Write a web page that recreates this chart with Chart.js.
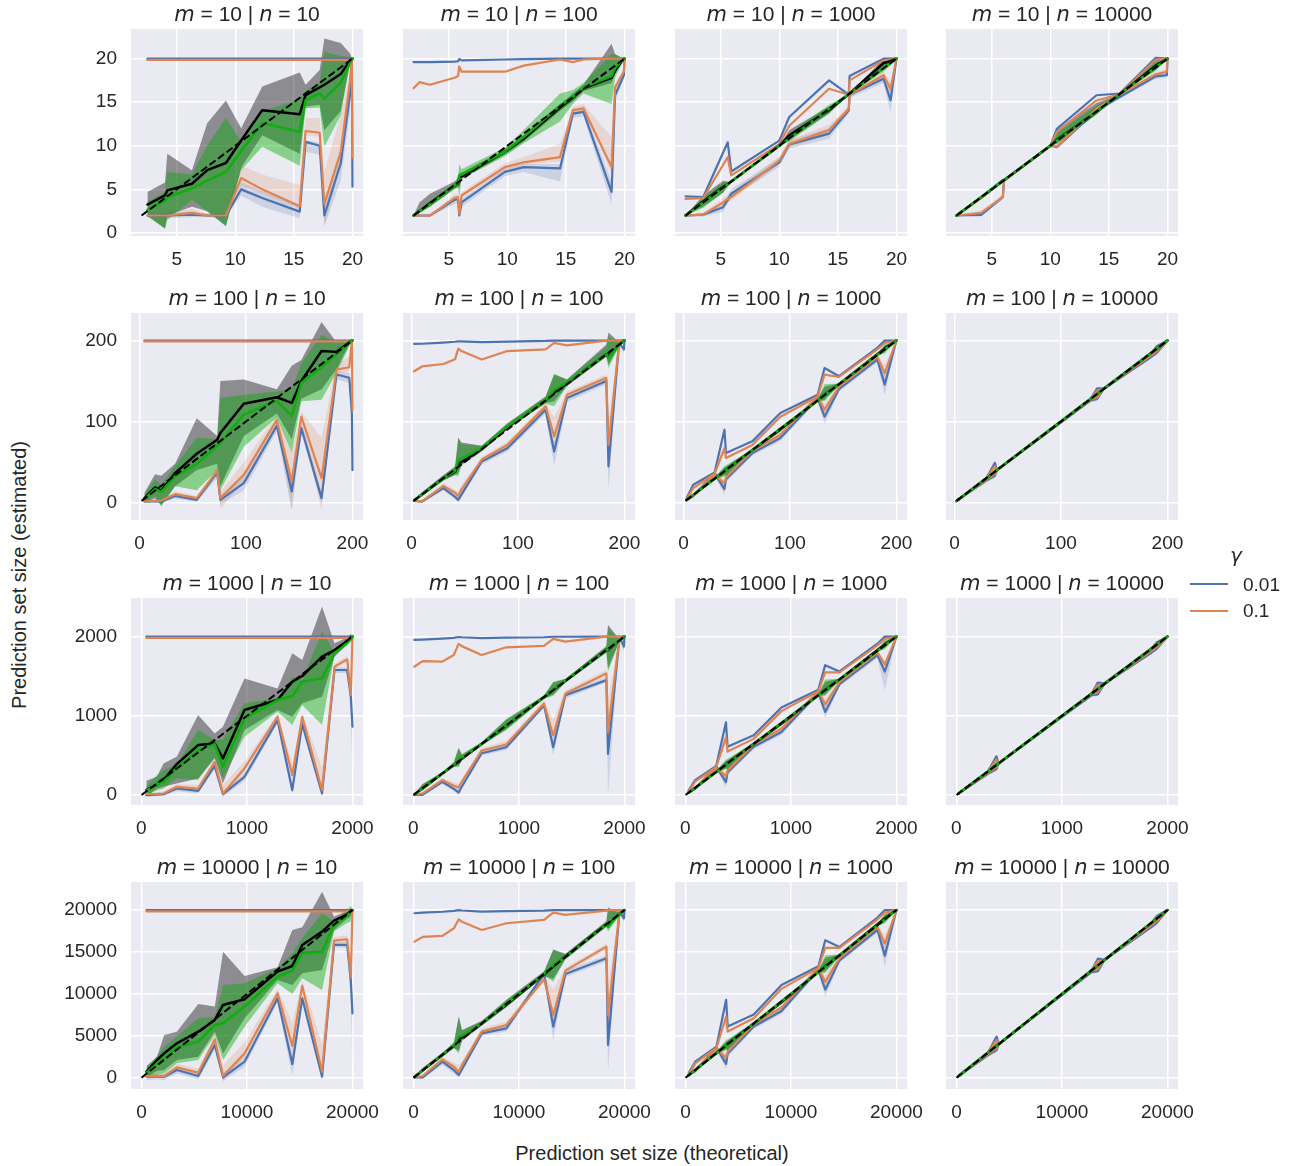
<!DOCTYPE html>
<html><head><meta charset="utf-8">
<script src="https://cdn.jsdelivr.net/npm/chart.js@4.4.1/dist/chart.umd.min.js"></script>
<style>
body{margin:0;width:1291px;height:1166px;background:#fff;position:relative;overflow:hidden;font-family:"Liberation Sans",Arial,sans-serif;color:#262626}
canvas{position:absolute}
.ttl{position:absolute;width:232px;text-align:center;font-size:21px;line-height:22px;white-space:nowrap}
.ttl i,.gm{font-family:"DejaVu Sans",sans-serif;font-style:oblique}
.lab{position:absolute;font-size:20px;white-space:nowrap;line-height:24px}
.leg{position:absolute;font-size:19px;line-height:22px}
.lline{position:absolute;height:2px;width:38px}
</style></head><body>
<script>
// ---- axis setup per row (m) and column (n) ----
var rowsM = [10, 100, 1000, 10000];
var colsN = [10, 100, 1000, 10000];
var xMin = [1.1, -7.9, -97.9, -997.9];
var xMax = [20.9, 209.9, 2099.9, 20999.9];
var yMin = [-0.35, -21.6, -124, -1350];
var yMax = [23.4, 234, 2487, 23350];
var xTicks1 = [5, 10, 15, 20], xTicks2 = [0, 100, 200], xTicks3 = [0, 1000, 2000], xTicks4 = [0, 10000, 20000];
var yTicks1 = [0, 5, 10, 15, 20], yTicks2 = [0, 100, 200], yTicks3 = [0, 1000, 2000], yTicks4 = [0, 5000, 10000, 15000, 20000];
var diag1 = [2, 20], diag2 = [2, 200], diag3 = [2, 2000], diag4 = [2, 20000];

// ---- row 1 (m = 10) ----
var r1c1_x   = [2.5, 4.0, 4.2, 6.3, 7.6, 9.2, 10.5, 12.3, 15.5, 16.0, 17.2, 17.6, 19.0, 19.8, 19.95, 20.0];
var r1c1_bU  = [20, 20, 20, 20, 20, 20, 20, 20, 20, 20, 20, 20, 20, 20, 20, 20];
var r1c1_oU  = [19.85, 19.85, 19.85, 19.85, 19.85, 19.85, 19.85, 19.85, 19.85, 19.85, 19.85, 19.85, 19.85, 19.85, 19.9, 19.9];
var r1c1_bL  = [2.0, 2.0, 2.0, 2.1, 2.0, 2.0, 5.0, 4.0, 2.45, 10.45, 10.0, 2.0, 8.0, 16.0, 20.0, 5.3];
var r1c1_bLlo= [1.8, 1.8, 1.7, 1.8, 1.8, 1.8, 4.3, 3.0, 1.7, 9.3, 9.0, 0.8, 6.0, 14.0, 20, 1.0];
var r1c1_bLhi= [2.2, 2.2, 2.3, 2.5, 2.2, 2.2, 5.8, 4.8, 3.2, 10.6, 10.4, 3.0, 9.5, 17.0, 20, 12.0];
var r1c1_oL  = [2.0, 2.0, 2.0, 2.3, 2.0, 2.0, 6.3, 5.0, 3.07, 11.7, 11.5, 3.34, 9.3, 17.5, 20.0, 8.6];
var r1c1_oLlo= [1.8, 1.8, 1.8, 2.0, 1.8, 1.8, 5.5, 4.5, 2.8, 11.2, 11.0, 0.7, 8.0, 16.5, 20, 5.0];
var r1c1_oLhi= [2.2, 2.2, 2.3, 2.8, 2.2, 2.2, 7.7, 6.7, 5.5, 13.2, 13.2, 7.0, 13.6, 18.5, 20, 21.0];
var r1c1_g   = [2.65, 3.7, 4.1, 5.1, 6.0, 7.0, 9.4, 12.6, 11.6, 15.25, 16.0, 15.4, 17.24, 19.5, 20, 20];
var r1c1_glo = [1.9, 0.5, 1.5, 3.8, 2.5, 0.8, 7.2, 9.9, 7.7, 14.3, 14.4, 9.9, 13.5, 19.5, 20, 20];
var r1c1_ghi = [3.6, 4.7, 7.0, 6.7, 10.0, 13.2, 10.5, 14.0, 15.3, 16.3, 17.3, 20.8, 20.3, 20.2, 20, 20];
var r1c1_k   = [3.26, 4.3, 4.88, 5.65, 7.2, 8.03, 10.6, 14.09, 13.63, 15.82, 16.7, 17.0, 18.24, 19.8, 20, 20];
var r1c1_klo = [2.0, 0.5, 2.0, 3.0, 2.5, 0.8, 7.5, 11.2, 9.1, 14.5, 14.7, 11.8, 14.0, 19.5, 20, 20];
var r1c1_khi = [4.7, 5.8, 9.1, 7.2, 12.6, 15.2, 12.0, 16.8, 18.4, 17.0, 18.7, 22.3, 21.8, 20.6, 20, 20];

var r1c2_x   = [2.0, 2.5, 3.4, 5.5, 5.8, 5.9, 6.1, 9.8, 11.4, 14.5, 15.6, 16.5, 18.9, 19.2, 19.95, 20.0];
var r1c2_bU  = [19.6, 19.6, 19.6, 19.65, 19.7, 19.95, 19.8, 19.9, 19.95, 20.0, 20.0, 20.0, 20.0, 20.0, 20.0, 20.0];
var r1c2_oU  = [16.6, 17.3, 17.0, 17.8, 18.0, 19.1, 18.5, 18.5, 19.2, 19.9, 19.6, 19.9, 20.0, 20.0, 20.0, 20.0];
var r1c2_bL  = [2.0, 2.0, 2.0, 3.8, 3.9, 2.0, 3.5, 7.0, 7.55, 7.4, 13.7, 13.9, 4.7, 15.8, 18.1, 20.0];
var r1c2_bLlo= [1.9, 1.9, 1.9, 3.3, 3.4, 1.8, 3.0, 6.5, 7.0, 5.9, 13.2, 13.4, 3.3, 15.2, 17.8, 20];
var r1c2_bLhi= [2.1, 2.1, 2.1, 4.2, 4.3, 2.3, 3.9, 7.4, 7.9, 7.9, 14.1, 14.3, 6.0, 16.3, 18.4, 20];
var r1c2_oL  = [2.0, 2.0, 2.0, 4.0, 4.1, 2.2, 4.3, 7.55, 8.1, 8.7, 14.1, 14.3, 7.55, 16.7, 18.5, 20.0];
var r1c2_oLlo= [1.9, 1.9, 1.9, 3.7, 3.8, 2.0, 4.0, 7.2, 7.8, 8.2, 13.8, 14.0, 6.8, 16.3, 18.3, 20];
var r1c2_oLhi= [2.1, 2.1, 2.1, 4.4, 4.5, 2.5, 4.7, 8.0, 8.7, 10.2, 14.5, 14.8, 11.0, 17.1, 18.8, 20];
var r1c2_g   = [2.0, 2.5, 3.3, 5.4, 5.8, 6.6, 6.7, 9.3, 11.0, 14.6, 15.6, 16.7, 18.0, 18.9, 20.0, 20.0];
var r1c2_glo = [2.0, 2.3, 3.0, 5.0, 5.2, 4.1, 6.2, 8.8, 10.3, 12.8, 14.8, 16.0, 14.8, 17.8, 20, 20];
var r1c2_ghi = [2.1, 2.8, 3.7, 5.8, 6.5, 7.9, 7.3, 9.8, 11.8, 16.0, 16.4, 17.2, 20.5, 20.5, 20, 20];
var r1c2_k   = [2.0, 2.5, 3.4, 5.4, 5.7, 6.4, 6.5, 9.3, 10.8, 14.4, 15.5, 16.6, 17.8, 18.6, 20, 20];
var r1c2_klo = [2.0, 2.3, 3.0, 5.1, 5.3, 5.2, 6.2, 9.0, 10.5, 14.0, 15.1, 16.3, 17.2, 18.2, 20, 20];
var r1c2_khi = [2.0, 3.5, 4.5, 5.9, 6.2, 6.9, 6.9, 9.6, 11.2, 14.8, 16.0, 17.0, 21.7, 20.5, 20, 20];

var r1c3_x   = [2.0, 3.5, 5.2, 5.6, 5.9, 10.0, 10.85, 14.25, 15.93, 16.0, 18.9, 19.5, 20.0];
var r1c3_bU  = [4.2, 4.1, 9.2, 10.4, 7.05, 10.6, 13.3, 17.5, 15.86, 18.0, 20.0, 20.0, 20.0];
var r1c3_oU  = [3.9, 4.0, 7.8, 8.7, 6.6, 10.2, 12.3, 16.55, 15.86, 17.5, 19.8, 19.9, 20.0];
var r1c3_bL  = [2.0, 2.1, 2.95, 3.8, 4.5, 8.1, 10.15, 11.4, 14.06, 15.86, 17.7, 15.2, 20.0];
var r1c3_bLlo= [1.9, 1.9, 2.4, 3.4, 4.0, 7.6, 9.7, 10.8, 13.7, 15.5, 17.2, 13.8, 20.0];
var r1c3_bLhi= [2.1, 2.3, 3.4, 4.4, 5.0, 8.6, 10.6, 12.0, 14.4, 16.1, 18.1, 16.5, 20.0];
var r1c3_oL  = [2.0, 2.1, 3.5, 3.9, 4.1, 8.3, 10.2, 11.8, 14.25, 15.86, 18.1, 16.55, 20.0];
var r1c3_oLlo= [1.9, 1.9, 3.1, 3.5, 3.7, 7.9, 9.8, 11.3, 13.9, 15.6, 17.7, 15.6, 20.0];
var r1c3_oLhi= [2.1, 2.3, 4.0, 4.3, 4.6, 8.8, 10.7, 12.4, 14.6, 16.2, 18.5, 17.4, 20.0];
var r1c3_g   = [2.0, 3.5, 5.2, 5.6, 5.9, 10.0, 10.85, 14.25, 15.93, 16.0, 18.9, 19.5, 20.0];
var r1c3_glo = [2.0, 2.9, 4.6, 5.4, 5.9, 10.0, 10.5, 13.7, 15.93, 16.0, 18.5, 19.2, 20.0];
var r1c3_ghi = [2.0, 4.1, 5.8, 5.8, 5.9, 10.0, 11.4, 14.7, 15.93, 16.0, 19.6, 19.9, 20.0];
var r1c3_k   = [2.0, 3.6, 5.3, 5.6, 5.9, 10.0, 11.2, 14.1, 15.9, 16.0, 19.5, 19.7, 20.0];
var r1c3_klo = [2.0, 3.0, 4.6, 5.3, 5.9, 10.0, 10.7, 13.7, 15.9, 16.0, 19.0, 19.3, 20.0];
var r1c3_khi = [2.0, 4.3, 6.0, 5.9, 5.9, 10.0, 11.8, 14.5, 15.9, 16.0, 20.0, 20.1, 20.0];

var r1c4_x   = [2.0, 4.1, 5.95, 6.05, 10.0, 10.56, 13.94, 15.93, 19.0, 19.95, 20.0];
var r1c4_bU  = [2.0, 4.1, 6.1, 6.1, 10.0, 11.95, 15.8, 16.0, 20.1, 20.0, 20.0];
var r1c4_oU  = [2.0, 4.0, 6.0, 6.0, 10.0, 11.6, 15.2, 15.9, 19.9, 20.0, 20.0];
var r1c4_bL  = [2.0, 2.07, 4.1, 6.0, 10.0, 9.85, 14.06, 15.6, 17.97, 18.1, 20.0];
var r1c4_bLlo= [2.0, 1.9, 3.9, 5.9, 10.0, 9.7, 13.8, 15.4, 17.7, 17.9, 20];
var r1c4_bLhi= [2.0, 2.3, 4.4, 6.1, 10.0, 10.0, 14.4, 15.8, 18.2, 18.3, 20];
var r1c4_oL  = [2.0, 2.3, 4.1, 6.0, 10.0, 9.9, 14.25, 15.9, 18.2, 18.5, 20.0];
var r1c4_oLlo= [2.0, 2.2, 4.0, 5.9, 10.0, 9.8, 14.0, 15.8, 18.0, 18.3, 20];
var r1c4_oLhi= [2.0, 2.6, 4.4, 6.1, 10.0, 10.1, 14.6, 16.0, 18.5, 18.8, 20];
var r1c4_g   = [2.0, 4.1, 5.95, 6.05, 10.0, 10.6, 13.94, 15.93, 19.0, 19.95, 20.0];
var r1c4_glo = [2.0, 4.1, 5.95, 6.05, 10.0, 10.3, 13.6, 15.93, 18.6, 19.9, 20.0];
var r1c4_ghi = [2.0, 4.1, 5.95, 6.05, 10.0, 11.5, 14.6, 15.93, 19.6, 20.0, 20.0];
var r1c4_k   = [2.0, 4.1, 5.95, 6.05, 10.0, 10.7, 13.9, 15.93, 19.2, 19.95, 20.0];
var r1c4_klo = [2.0, 4.1, 5.95, 6.05, 10.0, 10.2, 13.6, 15.93, 18.7, 19.9, 20.0];
var r1c4_khi = [2.0, 4.1, 5.95, 6.05, 10.0, 11.8, 14.9, 15.93, 20.1, 20.0, 20.0];

// ---- row 2 (m = 100) ----
var r2c1_x   = [4.7, 14.7, 20.5, 33.5, 53.8, 73, 76, 98, 129, 143, 152, 171, 185, 197, 199.5, 200];
var r2c1_bU  = [200, 200, 200, 200, 200, 200, 200, 200, 200, 200, 200, 200, 200, 200, 200, 200];
var r2c1_oU  = [199, 199, 199, 199, 199, 199, 199, 199, 199, 199, 199, 199, 199, 199, 199.5, 199.5];
var r2c1_bL  = [1.2, 1.6, 1.4, 8.2, 3.3, 37, 3.3, 23.9, 94.8, 13.6, 92, 5.4, 158, 154, 110, 40];
var r2c1_bLlo= [0, 0, -1, 5, 1, 30, -2, 15, 88, -10, 85, -2, 152, 148, 90, -5];
var r2c1_bLhi= [2.5, 3, 3, 11, 6, 42, 8, 32, 100, 25, 100, 12, 163, 160, 125, 60];
var r2c1_oL  = [1.2, 2.2, 2.4, 10.3, 5.4, 39, 5.4, 34.2, 102, 26, 106, 30, 164, 167, 200, 114];
var r2c1_oLlo= [0, 1, 1, 7, 3, 35, -8, 27, 97, -8, 100, -10, 159, 162, 200, 80];
var r2c1_oLhi= [3, 4, 4, 14, 8, 44, 13, 50, 108, 60, 112, 80, 172, 180, 200, 140];
var r2c1_g   = [4.1, 16.5, 13.2, 32.2, 47.4, 70, 73.4, 108.5, 125.8, 107, 147.6, 167, 183, 197, 200, 200];
var r2c1_glo = [0, 8, -5, 20, 15, 40, 15, 69, 105, 61, 125, 127, 160, 193, 200, 200];
var r2c1_ghi = [10, 28, 22, 45, 80, 78, 129, 133, 137, 140, 172, 207, 197, 201, 200, 200];
var r2c1_k   = [5.4, 18.6, 14.8, 36.3, 60.2, 77.5, 85.8, 122, 130, 123, 150, 187, 186, 198, 200, 200];
var r2c1_klo = [0, 5, -3, 20, 40, 48, 20, 82, 110, 78, 128, 140, 165, 195, 200, 200];
var r2c1_khi = [12, 35, 33, 48, 104, 82, 150, 152, 140, 169, 176, 223, 198, 201, 200, 200];

var r2c2_x   = [2.5, 10, 30, 41, 44, 47, 66, 90, 126, 134, 146, 183, 185, 195, 199.5, 200];
var r2c2_bU  = [195.9, 196, 197.5, 198.5, 199, 199, 198, 198.7, 199.5, 200, 200, 200, 200, 200, 200, 200];
var r2c2_oU  = [162, 168, 171, 177, 190, 187, 176.5, 187, 189, 197, 194, 200, 200, 200, 200, 200];
var r2c2_bL  = [2, 1.2, 17.7, 7, 3.3, 9.8, 50.7, 67, 114.6, 63, 129, 150, 44.5, 197, 189, 200];
var r2c2_bLlo= [1, 0, 15, 4, 0, 7, 47, 63, 110, 45, 124, 146, 15, 194, 185, 200];
var r2c2_bLhi= [3, 3, 21, 10, 8, 13, 55, 72, 119, 75, 133, 155, 70, 199, 193, 200];
var r2c2_oL  = [2, 1.5, 20.6, 12, 8.2, 16, 52.8, 71, 118.8, 81.6, 133, 154, 71, 197, 200, 200];
var r2c2_oLlo= [1, 0.5, 18, 9, 5, 13, 50, 68, 115, 70, 130, 150, 50, 194, 198, 200];
var r2c2_oLhi= [3, 3, 24, 15, 14, 22, 56, 75, 123, 105, 137, 158, 100, 199, 200, 200];
var r2c2_g   = [2.5, 10, 30, 39, 52, 54, 67, 94, 126, 139, 148, 182.7, 178.6, 195, 200, 200];
var r2c2_glo = [2, 8, 28, 34, 32, 48, 64, 91, 122, 119, 144, 180, 166, 193, 200, 200];
var r2c2_ghi = [3, 12, 33, 45, 80, 72, 70, 97, 131, 159, 152, 192, 205, 198, 200, 200];
var r2c2_k   = [2.5, 10, 30, 38, 48, 50, 66, 93, 126, 136, 147, 183, 180, 195, 200, 200];
var r2c2_klo = [2, 8, 27, 34, 36, 46, 63, 90, 123, 125, 144, 180, 170, 193, 200, 200];
var r2c2_khi = [3, 13, 34, 44, 80, 74, 70, 98, 131, 158, 152, 195, 210, 198, 200, 200];

var r2c3_x   = [3, 9.2, 29.3, 38.5, 40, 64.7, 91, 126, 132.5, 146, 182, 189, 200];
var r2c3_bU  = [5.4, 21.9, 37, 89.9, 61, 75.5, 110.5, 133, 166, 156, 191, 200, 200];
var r2c3_oU  = [4, 17.7, 35.5, 67, 55, 71, 106, 131, 158, 155, 189, 197, 200];
var r2c3_bL  = [3.3, 8, 36, 16.5, 28.9, 61, 79.6, 129, 106, 140, 176.5, 145.6, 200];
var r2c3_bLlo= [2, 6, 33, 10, 25, 58, 76, 126, 97, 137, 173, 132, 200];
var r2c3_bLhi= [5, 10, 39, 22, 33, 64, 83, 132, 114, 143, 180, 158, 200];
var r2c3_oL  = [3.3, 9, 34, 24, 31, 64, 83.7, 131, 114.6, 142.7, 179.8, 160, 200];
var r2c3_oLlo= [2, 7, 31, 19, 28, 61, 80, 128, 108, 140, 176, 150, 200];
var r2c3_oLhi= [5, 11, 37, 30, 35, 67, 87, 134, 122, 146, 183, 170, 200];
var r2c3_g   = [3, 9.2, 29.3, 38.5, 40, 64.7, 91, 126, 132.5, 146, 182, 189, 200];
var r2c3_glo = [3, 9, 28, 32, 30, 64, 89, 125, 125, 145, 181, 184, 200];
var r2c3_ghi = [3, 9.5, 31, 45, 46, 66, 93, 128, 146, 147, 184, 195, 200];
var r2c3_k   = [3, 9.2, 29.5, 38.5, 40.5, 64.7, 90, 126, 133, 146, 183, 190, 200];
var r2c3_klo = [3, 9, 28, 34, 33, 64, 89, 125, 127, 145, 181, 186, 200];
var r2c3_khi = [3, 9.5, 31, 43, 44, 66, 93, 128, 143, 147, 184, 194, 200];

var r2c4_x   = [2, 30, 38, 40, 128, 134, 140, 185, 190, 200];
var r2c4_bU  = [2, 30, 49, 40, 128, 141, 141, 185, 193, 200];
var r2c4_oU  = [2, 30, 45, 40, 128, 138, 140, 185, 191, 200];
var r2c4_bL  = [2, 27, 33, 40, 126, 128, 140, 180, 185, 200];
var r2c4_bLlo= [2, 25, 30, 39, 124, 125, 139, 178, 182, 200];
var r2c4_bLhi= [2, 29, 36, 41, 128, 131, 141, 182, 188, 200];
var r2c4_oL  = [2, 28, 35, 40, 127, 130, 140, 182, 187, 200];
var r2c4_oLlo= [2, 26, 33, 39, 125, 128, 139, 180, 185, 200];
var r2c4_oLhi= [2, 30, 37, 41, 129, 132, 141, 184, 189, 200];
var r2c4_g   = [2, 30, 38, 40, 128, 134, 140, 185, 190, 200];
var r2c4_glo = [2, 28, 35, 40, 127, 130, 140, 183, 187, 200];
var r2c4_ghi = [2, 31, 42, 40, 129, 137, 140, 186, 192, 200];
var r2c4_k   = [2, 30, 38, 40, 128, 134, 140, 185, 190, 200];
var r2c4_klo = [2, 28, 35, 40, 127, 131, 140, 183, 188, 200];
var r2c4_khi = [2, 31, 41, 40, 129, 137, 140, 186, 192, 200];

// ---- row 3 (m = 1000) ----
var r3c1_x   = [47, 147, 210, 335, 538, 695, 773, 977, 1290, 1430, 1524, 1712, 1830, 1950, 1985, 2000];
var r3c1_bU  = [2000, 2000, 2000, 2000, 2000, 2000, 2000, 2000, 2000, 2000, 2000, 2000, 2000, 2000, 2000, 2000];
var r3c1_oU  = [1985, 1985, 1985, 1985, 1985, 1985, 1985, 1985, 1985, 1985, 1985, 1985, 1985, 1985, 1990, 1990];
var r3c1_bL  = [0, 8, 13, 84, 55, 370, 13, 232, 947, 63, 897, 21, 1579, 1579, 1242, 863];
var r3c1_bLlo= [-20, -10, -10, 50, 20, 330, -20, 180, 900, 20, 850, -20, 1540, 1540, 1000, 300];
var r3c1_bLhi= [20, 25, 30, 110, 80, 400, 40, 280, 990, 150, 940, 70, 1610, 1610, 1400, 1300];
var r3c1_oL  = [13, 16, 21, 105, 84, 421, 21, 337, 989, 253, 989, 63, 1621, 1713, 1263, 2000];
var r3c1_oLlo= [0, 5, 5, 80, 60, 390, -10, 290, 950, 200, 950, 30, 1590, 1680, 1150, 2000];
var r3c1_oLhi= [30, 40, 50, 140, 130, 460, 130, 420, 1030, 400, 1030, 350, 1660, 1760, 1400, 2000];
var r3c1_g   = [55, 140, 168, 337, 568, 644, 358, 968, 1200, 1250, 1431, 1473, 1789, 1920, 1966, 2000];
var r3c1_glo = [0, 60, 84, 210, 190, 484, 210, 737, 1053, 884, 1137, 884, 1768, 1890, 1937, 2000];
var r3c1_ghi = [105, 250, 316, 379, 821, 695, 695, 1158, 1221, 1495, 1453, 2063, 1810, 1990, 2040, 2000];
var r3c1_k   = [63, 135, 189, 392, 632, 653, 463, 1074, 1200, 1431, 1503, 1747, 1831, 1940, 1990, 2000];
var r3c1_klo = [-13, 80, 105, 147, 210, 463, 147, 821, 1074, 989, 1158, 1242, 1747, 1900, 1958, 2000];
var r3c1_khi = [181, 232, 400, 484, 1010, 779, 863, 1473, 1347, 1789, 1705, 2379, 1915, 1990, 2020, 2000];

var r3c2_x   = [9, 87, 274, 383, 429, 460, 647, 880, 1238, 1325, 1440, 1829, 1844, 1953, 1995, 2000];
var r3c2_bU  = [1958, 1962, 1975, 1985, 1995, 1992, 1982, 1988, 1992, 1998, 1998, 2000, 2000, 2000, 2000, 2000];
var r3c2_oU  = [1620, 1690, 1684, 1768, 1908, 1880, 1768, 1865, 1882, 1971, 1937, 2000, 2000, 2000, 2000, 2000];
var r3c2_bL  = [4, 4, 169, 80, 34, 110, 529, 605, 1134, 605, 1260, 1451, 520, 1990, 1874, 2000];
var r3c2_bLlo= [-5, -5, 140, 50, 0, 80, 500, 570, 1100, 500, 1220, 1420, 0, 1980, 1800, 2000];
var r3c2_bLhi= [15, 15, 200, 110, 70, 140, 560, 650, 1170, 700, 1300, 1490, 900, 2000, 1950, 2000];
var r3c2_oL  = [4, 21, 190, 120, 97, 170, 563, 639, 1155, 753, 1282, 1535, 795, 1990, 2000, 2000];
var r3c2_oLlo= [0, 10, 170, 100, 70, 150, 540, 620, 1130, 700, 1260, 1510, 600, 1985, 2000, 2000];
var r3c2_oLhi= [15, 35, 220, 160, 140, 200, 600, 680, 1200, 950, 1320, 1580, 1200, 2000, 2000, 2000];
var r3c2_g   = [9, 87, 274, 383, 440, 470, 647, 880, 1238, 1340, 1445, 1830, 1840, 1953, 1995, 2000];
var r3c2_glo = [5, 60, 260, 360, 351, 440, 630, 820, 1220, 1250, 1420, 1800, 1557, 1940, 1990, 2000];
var r3c2_ghi = [15, 130, 290, 420, 605, 520, 670, 960, 1260, 1430, 1470, 1870, 2107, 1965, 2000, 2000];
var r3c2_k   = [9, 87, 270, 380, 420, 460, 645, 875, 1235, 1330, 1440, 1835, 1830, 1953, 1995, 2000];
var r3c2_klo = [5, 60, 255, 360, 370, 440, 625, 830, 1215, 1270, 1420, 1800, 1600, 1940, 1990, 2000];
var r3c2_khi = [15, 140, 290, 410, 590, 510, 665, 950, 1255, 1420, 1465, 1880, 2150, 1965, 2000, 2000];

var r3c3_x   = [30, 92, 293, 385, 400, 647, 910, 1260, 1325, 1460, 1820, 1890, 2000];
var r3c3_bU  = [54, 190, 370, 920, 610, 755, 1105, 1330, 1640, 1560, 1910, 2000, 2000];
var r3c3_oU  = [40, 170, 355, 730, 550, 710, 1060, 1310, 1550, 1550, 1890, 1970, 2000];
var r3c3_bL  = [33, 80, 360, 165, 290, 610, 796, 1290, 1050, 1400, 1765, 1560, 2000];
var r3c3_bLlo= [20, 60, 330, 100, 250, 580, 760, 1260, 970, 1370, 1730, 1320, 2000];
var r3c3_bLhi= [50, 100, 390, 220, 330, 640, 830, 1320, 1140, 1430, 1800, 1600, 2000];
var r3c3_oL  = [33, 90, 340, 240, 310, 640, 837, 1310, 1146, 1427, 1798, 1650, 2000];
var r3c3_oLlo= [20, 70, 310, 190, 280, 610, 800, 1280, 1080, 1400, 1760, 1500, 2000];
var r3c3_oLhi= [50, 110, 370, 300, 350, 670, 870, 1340, 1220, 1460, 1830, 1700, 2000];
var r3c3_g   = [30, 92, 293, 385, 400, 647, 910, 1260, 1325, 1460, 1820, 1890, 2000];
var r3c3_glo = [30, 90, 280, 330, 310, 640, 890, 1250, 1250, 1450, 1810, 1840, 2000];
var r3c3_ghi = [30, 95, 310, 450, 460, 660, 930, 1280, 1460, 1470, 1840, 1950, 2000];
var r3c3_k   = [30, 92, 295, 385, 405, 647, 900, 1260, 1330, 1460, 1830, 1900, 2000];
var r3c3_klo = [30, 90, 280, 340, 330, 640, 890, 1250, 1270, 1450, 1810, 1860, 2000];
var r3c3_khi = [30, 95, 310, 430, 440, 660, 930, 1280, 1430, 1470, 1840, 1940, 2000];

var r3c4_x   = [20, 300, 380, 400, 1280, 1340, 1400, 1850, 1900, 2000];
var r3c4_bU  = [20, 300, 490, 400, 1280, 1420, 1410, 1850, 1930, 2000];
var r3c4_oU  = [20, 300, 450, 400, 1280, 1390, 1400, 1850, 1910, 2000];
var r3c4_bL  = [20, 270, 330, 400, 1260, 1270, 1400, 1800, 1850, 2000];
var r3c4_bLlo= [20, 250, 300, 390, 1240, 1250, 1390, 1780, 1820, 2000];
var r3c4_bLhi= [20, 290, 360, 410, 1280, 1300, 1410, 1820, 1880, 2000];
var r3c4_oL  = [20, 280, 350, 400, 1270, 1300, 1400, 1820, 1870, 2000];
var r3c4_oLlo= [20, 260, 330, 390, 1250, 1280, 1390, 1800, 1850, 2000];
var r3c4_oLhi= [20, 300, 370, 410, 1290, 1320, 1410, 1840, 1890, 2000];
var r3c4_g   = [20, 300, 380, 400, 1280, 1340, 1400, 1850, 1900, 2000];
var r3c4_glo = [20, 280, 350, 400, 1270, 1300, 1400, 1830, 1870, 2000];
var r3c4_ghi = [20, 310, 420, 400, 1290, 1370, 1400, 1860, 1920, 2000];
var r3c4_k   = [20, 300, 380, 400, 1280, 1340, 1400, 1850, 1900, 2000];
var r3c4_klo = [20, 285, 355, 400, 1272, 1305, 1400, 1832, 1872, 2000];
var r3c4_khi = [20, 310, 415, 400, 1290, 1365, 1400, 1860, 1918, 2000];

// ---- row 4 (m = 10000) ----
var r4c1_x   = [470, 1470, 2150, 3350, 5380, 6950, 7730, 9770, 12900, 14300, 15240, 17120, 18250, 19500, 19850, 20000];
var r4c1_bU  = [20000, 20000, 20000, 20000, 20000, 20000, 20000, 20000, 20000, 20000, 20000, 20000, 20000, 20000, 20000, 20000];
var r4c1_oU  = [19850, 19850, 19850, 19850, 19850, 19850, 19850, 19850, 19850, 19850, 19850, 19850, 19850, 19850, 19900, 19900];
var r4c1_bL  = [120, 150, 120, 915, 200, 3900, 40, 1910, 9470, 1630, 9470, 120, 15840, 15840, 11500, 7680];
var r4c1_bLlo= [-300, -200, -300, 500, -200, 3400, -400, 1300, 9000, 200, 9000, -300, 15500, 15500, 9000, 1000];
var r4c1_bLhi= [400, 400, 400, 1300, 600, 4300, 600, 2600, 9900, 2600, 9900, 800, 16200, 16200, 14000, 14000];
var r4c1_oL  = [200, 250, 200, 1230, 600, 4580, 200, 2900, 10070, 3780, 10950, 716, 16360, 16520, 12060, 20000];
var r4c1_oLlo= [0, 50, 0, 1000, 300, 4200, -400, 2500, 9700, 2500, 10500, 300, 16000, 16200, 10000, 20000];
var r4c1_oLhi= [500, 500, 600, 1700, 1100, 5200, 1500, 4200, 10600, 6500, 11600, 4000, 16800, 17000, 14000, 20000];
var r4c1_g   = [597, 1710, 2310, 3620, 4300, 6290, 6490, 8480, 12060, 12780, 14920, 15040, 18230, 19300, 19820, 20000];
var r4c1_glo = [120, 400, 520, 1710, 2110, 5090, 2110, 6090, 11260, 9990, 11860, 10470, 17430, 18500, 18630, 20000];
var r4c1_ghi = [1110, 2600, 3700, 4900, 7080, 7280, 11060, 11260, 13050, 14850, 16640, 19620, 18630, 20000, 20500, 20000];
var r4c1_k   = [716, 2110, 2905, 4100, 5490, 6890, 8680, 9350, 12660, 13330, 15840, 17430, 18750, 19500, 19900, 20000];
var r4c1_klo = [120, 800, 915, 2110, 2500, 5490, 2900, 7080, 11660, 11060, 12460, 12860, 17630, 19000, 19220, 20000];
var r4c1_khi = [1390, 2500, 5090, 5490, 8800, 8480, 15040, 12140, 13170, 17630, 17950, 22200, 19220, 19900, 20220, 20000];

var r4c2_x   = [93, 870, 2740, 3830, 4290, 4600, 6470, 8800, 12380, 13250, 14400, 18290, 18440, 19530, 19950, 20000];
var r4c2_bU  = [19620, 19700, 19800, 19900, 20000, 19950, 19820, 19880, 19940, 20000, 20000, 20000, 20000, 20000, 20000, 20000];
var r4c2_oU  = [16240, 16800, 16920, 17830, 18900, 18600, 17630, 18430, 18830, 19700, 19420, 19940, 20000, 20000, 20000, 20000];
var r4c2_bL  = [40, 40, 1910, 900, 320, 1000, 5290, 5890, 12380, 6090, 12380, 14250, 3900, 19820, 19020, 20000];
var r4c2_bLlo= [-100, -100, 1500, 500, 0, 700, 5000, 5500, 12000, 4500, 12000, 13900, 800, 19600, 18600, 20000];
var r4c2_bLhi= [150, 150, 2300, 1300, 700, 1400, 5700, 6300, 12700, 7500, 12800, 14600, 7000, 20000, 19400, 20000];
var r4c2_oL  = [40, 200, 2190, 1300, 716, 1500, 5490, 6290, 11740, 7480, 12780, 15640, 7480, 19820, 20000, 20000];
var r4c2_oLlo= [0, 100, 1900, 1100, 400, 1200, 5200, 6000, 11500, 6500, 12500, 15300, 5000, 19600, 20000, 20000];
var r4c2_oLhi= [150, 400, 2500, 1800, 1500, 1900, 5900, 6700, 12200, 10500, 13100, 16000, 11000, 20000, 20000, 20000];
var r4c2_g   = [93, 870, 2740, 3830, 4900, 5000, 6470, 8800, 12380, 13400, 14400, 18290, 18000, 19530, 19950, 20000];
var r4c2_glo = [50, 700, 2600, 3600, 2900, 4500, 6300, 8500, 12200, 11460, 14200, 18000, 17430, 19400, 19900, 20000];
var r4c2_ghi = [150, 1100, 2900, 4100, 7280, 5600, 6700, 9200, 12600, 15240, 14700, 18600, 20000, 19700, 20000, 20000];
var r4c2_k   = [93, 870, 2700, 3800, 4600, 4800, 6470, 8700, 12300, 13300, 14450, 18300, 18200, 19530, 19950, 20000];
var r4c2_klo = [50, 700, 2500, 3500, 3200, 4400, 6200, 8400, 12100, 11800, 14100, 18000, 17800, 19400, 19900, 20000];
var r4c2_khi = [200, 1200, 3000, 4200, 7300, 5700, 6800, 9300, 12700, 15300, 14800, 18700, 20300, 19700, 20000, 20000];

var r4c3_x   = [300, 920, 2930, 3850, 4000, 6470, 9100, 12600, 13250, 14600, 18200, 18900, 20000];
var r4c3_bU  = [540, 1900, 3700, 9300, 6100, 7550, 11050, 13300, 16400, 15600, 19100, 20000, 20000];
var r4c3_oU  = [400, 1700, 3550, 7300, 5500, 7100, 10600, 13100, 15500, 15500, 18900, 19700, 20000];
var r4c3_bL  = [330, 800, 3600, 1650, 2900, 6100, 7960, 12900, 10500, 14000, 17650, 14560, 20000];
var r4c3_bLlo= [200, 600, 3300, 1000, 2500, 5800, 7600, 12600, 9700, 13700, 17300, 13200, 20000];
var r4c3_bLhi= [500, 1000, 3900, 2200, 3300, 6400, 8300, 13200, 11400, 14300, 18000, 16000, 20000];
var r4c3_oL  = [330, 900, 3400, 2400, 3100, 6400, 8370, 13100, 11460, 14270, 17980, 16000, 20000];
var r4c3_oLlo= [200, 700, 3100, 1900, 2800, 6100, 8000, 12800, 10800, 14000, 17600, 15000, 20000];
var r4c3_oLhi= [500, 1100, 3700, 3000, 3500, 6700, 8700, 13400, 12200, 14600, 18300, 17000, 20000];
var r4c3_g   = [300, 920, 2930, 3850, 4000, 6470, 9100, 12600, 13250, 14600, 18200, 18900, 20000];
var r4c3_glo = [300, 900, 2800, 3300, 3100, 6400, 8900, 12500, 12500, 14500, 18100, 18400, 20000];
var r4c3_ghi = [300, 950, 3100, 4500, 4600, 6600, 9300, 12800, 14600, 14700, 18400, 19500, 20000];
var r4c3_k   = [300, 920, 2950, 3850, 4050, 6470, 9000, 12600, 13300, 14600, 18300, 19000, 20000];
var r4c3_klo = [300, 900, 2800, 3400, 3300, 6400, 8900, 12500, 12700, 14500, 18100, 18600, 20000];
var r4c3_khi = [300, 950, 3100, 4300, 4400, 6600, 9300, 12800, 14300, 14700, 18400, 19400, 20000];

var r4c4_x   = [200, 3000, 3800, 4000, 12800, 13400, 14000, 18500, 19000, 20000];
var r4c4_bU  = [200, 3000, 4900, 4000, 12800, 14200, 14100, 18500, 19300, 20000];
var r4c4_oU  = [200, 3000, 4500, 4000, 12800, 13900, 14000, 18500, 19100, 20000];
var r4c4_bL  = [200, 2700, 3300, 4000, 12600, 12700, 14000, 18000, 18500, 20000];
var r4c4_bLlo= [200, 2500, 3000, 3900, 12400, 12500, 13900, 17800, 18200, 20000];
var r4c4_bLhi= [200, 2900, 3600, 4100, 12800, 13000, 14100, 18200, 18800, 20000];
var r4c4_oL  = [200, 2800, 3500, 4000, 12700, 13000, 14000, 18200, 18700, 20000];
var r4c4_oLlo= [200, 2600, 3300, 3900, 12500, 12800, 13900, 18000, 18500, 20000];
var r4c4_oLhi= [200, 3000, 3700, 4100, 12900, 13200, 14100, 18400, 18900, 20000];
var r4c4_g   = [200, 3000, 3800, 4000, 12800, 13400, 14000, 18500, 19000, 20000];
var r4c4_glo = [200, 2800, 3500, 4000, 12700, 13000, 14000, 18300, 18700, 20000];
var r4c4_ghi = [200, 3100, 4200, 4000, 12900, 13700, 14000, 18600, 19200, 20000];
var r4c4_k   = [200, 3000, 3800, 4000, 12800, 13400, 14000, 18500, 19000, 20000];
var r4c4_klo = [200, 2850, 3550, 4000, 12720, 13050, 14000, 18320, 18720, 20000];
var r4c4_khi = [200, 3100, 4150, 4000, 12900, 13650, 14000, 18600, 19180, 20000];
</script>
<script>
const COL_LEFT = [131, 403, 675, 946];
const ROW_TOP = [29, 313, 598, 882];
const PW = 232, PH = 207;
const PADL = 75, PADT = 30, PADR = 45, XAXH = 40;
const BLUE = '#4C72B0', ORANGE = '#DD8452', GREEN = '#0BB00B', BLACK = '#000000';
const TXT = '#262626';
const FONT = {family: '"Liberation Sans", Arial, sans-serif', size: 19};

function A(r, c, key) { return window['r' + r + 'c' + c + '_' + key]; }
function pts(xs, ys) { return xs.map((x, i) => ({x: x, y: ys[i]})); }
function bandDs(xs, lo, hi, color) {
  return [
    {data: pts(xs, lo), borderColor: 'rgba(0,0,0,0)', borderWidth: 0, pointRadius: 0, fill: false},
    {data: pts(xs, hi), borderColor: 'rgba(0,0,0,0)', borderWidth: 0, pointRadius: 0, fill: '-1', backgroundColor: color}
  ];
}
function lineDs(xs, ys, color, w, dash) {
  return {data: pts(xs, ys), borderColor: color, borderWidth: w, borderDash: dash || [], pointRadius: 0,
          fill: false, tension: 0, borderJoinStyle: 'round', borderCapStyle: dash ? 'butt' : 'round'};
}
const bgPlugin = {
  id: 'bg',
  beforeDraw(chart) {
    const a = chart.chartArea, ctx = chart.ctx;
    ctx.save(); ctx.fillStyle = '#EAEAF2'; ctx.fillRect(a.left, a.top, a.right - a.left, a.bottom - a.top); ctx.restore();
  }
};
const xTickSets = [xTicks1, xTicks2, xTicks3, xTicks4];
const yTickSets = [yTicks1, yTicks2, yTicks3, yTicks4];
const diags = [diag1, diag2, diag3, diag4];

for (let r = 1; r <= 4; r++) {
  for (let c = 1; c <= 4; c++) {
    const xs = A(r, c, 'x');
    let ds = [];
    ds = ds.concat(bandDs(xs, A(r, c, 'bLlo'), A(r, c, 'bLhi'), 'rgba(76,114,176,0.2)'));
    ds = ds.concat(bandDs(xs, A(r, c, 'oLlo'), A(r, c, 'oLhi'), 'rgba(221,132,82,0.2)'));
    ds = ds.concat(bandDs(xs, A(r, c, 'klo'), A(r, c, 'khi'), 'rgba(0,0,0,0.4)'));
    ds = ds.concat(bandDs(xs, A(r, c, 'glo'), A(r, c, 'ghi'), 'rgba(0,170,0,0.42)'));
    ds.push(lineDs(xs, A(r, c, 'bU'), BLUE, 2.2));
    ds.push(lineDs(xs, A(r, c, 'bL'), BLUE, 2.2));
    ds.push(lineDs(xs, A(r, c, 'oU'), ORANGE, 2.2));
    ds.push(lineDs(xs, A(r, c, 'oL'), ORANGE, 2.2));
    ds.push(lineDs(xs, A(r, c, 'k'), BLACK, 2.5));
    ds.push(lineDs(xs, A(r, c, 'g'), GREEN, 2.5));
    const dg = diags[r - 1];
    ds.push(lineDs(dg, dg, BLACK, 2, [7.4, 3.2]));
    ds.forEach((d, i) => { d.order = ds.length - i; });

    const cv = document.createElement('canvas');
    const W = PADL + PW + PADR, H = PADT + PH + XAXH;
    cv.width = W; cv.height = H;
    cv.style.left = (COL_LEFT[c - 1] - PADL) + 'px';
    cv.style.top = (ROW_TOP[r - 1] - PADT) + 'px';
    cv.style.width = W + 'px'; cv.style.height = H + 'px';
    document.body.appendChild(cv);
    const xt = xTickSets[r - 1], yt = yTickSets[r - 1];
    new Chart(cv, {
      type: 'line',
      data: {datasets: ds},
      options: {
        responsive: false, animation: false, devicePixelRatio: 1,
        layout: {padding: {left: 0, right: PADR, top: PADT, bottom: 0}},
        plugins: {legend: {display: false}, tooltip: {enabled: false}, title: {display: false}},
        scales: {
          x: {
            type: 'linear', min: xMin[r - 1], max: xMax[r - 1],
            afterBuildTicks: s => { s.ticks = xt.map(v => ({value: v})); },
            afterFit: s => { s.height = XAXH; },
            ticks: {display: true, font: FONT, color: TXT, padding: 12, maxRotation: 0, autoSkip: false,
                    callback: v => String(v)},
            grid: {color: '#ffffff', lineWidth: 1.5, drawTicks: false},
            border: {display: false}
          },
          y: {
            type: 'linear', min: yMin[r - 1], max: yMax[r - 1],
            afterBuildTicks: s => { s.ticks = yt.map(v => ({value: v})); },
            afterFit: s => { s.width = PADL; },
            ticks: {display: c === 1, font: FONT, color: TXT, padding: 14, autoSkip: false,
                    callback: v => String(v)},
            grid: {color: '#ffffff', lineWidth: 1.5, drawTicks: false},
            border: {display: false}
          }
        }
      },
      plugins: [bgPlugin]
    });

    const t = document.createElement('div');
    t.className = 'ttl';
    t.style.left = COL_LEFT[c - 1] + 'px';
    t.style.top = (ROW_TOP[r - 1] - 26) + 'px';
    t.innerHTML = '<i>m</i> = ' + rowsM[r - 1] + ' | <i>n</i> = ' + colsN[c - 1];
    document.body.appendChild(t);
  }
}
</script>
<div class="lab" style="left:652px;top:1141px;transform:translateX(-50%)">Prediction set size (theoretical)</div>
<div class="lab" style="left:19px;top:575px;transform:translate(-50%,-50%) rotate(-90deg)">Prediction set size (estimated)</div>
<div class="leg gm" style="left:1230px;top:544px;font-size:20px">γ</div>
<div class="lline" style="left:1190px;top:583px;background:#4C72B0"></div>
<div class="leg" style="left:1243px;top:574px">0.01</div>
<div class="lline" style="left:1190px;top:610px;background:#DD8452"></div>
<div class="leg" style="left:1243px;top:600px">0.1</div>
</body></html>
